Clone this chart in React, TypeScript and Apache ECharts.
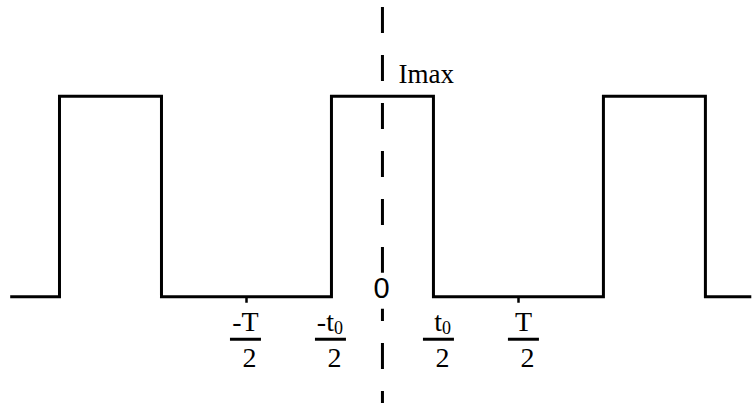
import React, { useEffect, useRef } from "react";
import * as echarts from "echarts";

// Square wave (units: T = 8, t0 = 3, Imax = 1)
const waveX = [-10.95, -9.5, -9.5, -6.5, -6.5, -1.5, -1.5, 1.5, 1.5, 6.5, 6.5, 9.5, 9.5, 10.85];
const waveY = [0, 0, 1, 1, 0, 0, 1, 1, 0, 0, 1, 1, 0, 0];

// Axis annotations
const tickValues = [-4, -1.5, 1.5, 4];
const tickNumerators = ["-T", "-t", "t", "T"];
const tickSubscripts = ["", "0", "0", ""];
const tickDenominators = ["2", "2", "2", "2"];
const periodTicks = [-4, 4];
const levelLabel = "Imax";
const levelValue = 1;
const originLabel = "0";
// vertical dashed line through t = 0: [t, top value, bottom value]
const zeroLine = [0, 1.445, -0.5995];

const SERIF = '"Liberation Serif", "Times New Roman", serif';
const SANS = '"Liberation Sans", Arial, sans-serif';

function txt(text: string, x: number, y: number, size: number, family: string, align: string, valign: string) {
  return {
    type: "text",
    style: {
      text,
      x,
      y,
      fill: "#000",
      fontSize: size,
      fontFamily: family,
      font: `${size}px ${family}`,
      textAlign: align,
      align,
      textVerticalAlign: valign,
      verticalAlign: valign,
    },
  };
}

export default function App() {
  const ref = useRef<HTMLDivElement>(null);
  useEffect(() => {
    if (!ref.current) return;
    const chart = echarts.init(ref.current, undefined, { renderer: "svg" });
    const fs = 28;
    chart.setOption({
      animation: false,
      backgroundColor: "#fff",
      grid: { left: 0, right: 0, top: 0, bottom: 0, containLabel: false },
      xAxis: { type: "value", min: -11.25, max: 10.9, show: false },
      yAxis: { type: "value", min: -0.53, max: 1.48, show: false },
      series: [
        {
          type: "line",
          data: waveX.map((x, i) => [x, waveY[i]]),
          symbol: "none",
          silent: true,
          lineStyle: { color: "#000", width: 3, join: "miter", cap: "butt" },
          markLine: {
            silent: true,
            symbol: ["none", "none"],
            label: { show: false },
            lineStyle: { color: "#000", width: 2.5, type: "solid" },
            data: periodTicks.map((t) => [{ coord: [t, 0] }, { coord: [t, -0.03] }]),
          },
          markPoint: {
            silent: true,
            symbol: "circle",
            symbolSize: 0,
            data: [
              {
                coord: [0, levelValue],
                label: {
                  show: true,
                  formatter: levelLabel,
                  position: [16, -22],
                  align: "left",
                  verticalAlign: "middle",
                  color: "#000",
                  fontSize: 27,
                  fontFamily: SERIF,
                },
              },
            ],
          },
        },
        {
          type: "custom",
          silent: true,
          clip: false,
          data: [zeroLine],
          encode: { x: 0, y: [1, 2] },
          renderItem: (params: any, api: any) => {
            const x = api.value(0);
            const p1 = api.coord([x, api.value(1)]);
            const p2 = api.coord([x, api.value(2)]);
            return {
              type: "line",
              shape: { x1: p1[0], y1: p1[1], x2: p2[0], y2: p2[1] },
              style: { stroke: "#000", lineWidth: 3, lineDash: [26, 22], lineDashOffset: 0 },
            };
          },
        },
        {
          type: "custom",
          silent: true,
          data: tickValues.map((v, i) => [v, 0, i]),
          encode: { x: 0, y: 1 },
          renderItem: (params: any, api: any) => {
            const v = api.value(0);
            const i = api.value(2);
            const p = api.coord([v, 0]);
            const ax = p[0];
            const ay = p[1];
            const cx = ax + 2 + Math.sign(v) * 3;
            const children: any[] = [];
            const sub = tickSubscripts[i];
            if (sub) {
              children.push(txt(tickNumerators[i], cx + 3.5, ay + 24.5, fs, SERIF, "right", "middle"));
              children.push(txt(sub, cx + 3.5, ay + 31.5, 18, SERIF, "left", "middle"));
            } else {
              children.push(txt(tickNumerators[i], cx, ay + 24.5, fs, SERIF, "center", "middle"));
            }
            children.push({
              type: "rect",
              shape: { x: cx - 15.5, y: ay + 41, width: 31, height: 3 },
              style: { fill: "#000" },
            });
            children.push(txt(tickDenominators[i], cx + 4, ay + 60.5, fs, SERIF, "center", "middle"));
            return { type: "group", children };
          },
        },
        {
          type: "custom",
          silent: true,
          data: [[0, 0]],
          encode: { x: 0, y: 1 },
          renderItem: (params: any, api: any) => {
            const p = api.coord([api.value(0), api.value(1)]);
            return {
              type: "group",
              children: [
                {
                  type: "rect",
                  shape: { x: p[0] - 9, y: p[1] - 24, width: 18, height: 36 },
                  style: { fill: "#fff" },
                },
                txt(originLabel, p[0] - 1, p[1] - 9, 29, SANS, "center", "middle"),
              ],
            };
          },
        },
      ],
    });
    return () => chart.dispose();
  }, []);
  return (
    <div
      ref={ref}
      style={{ position: "fixed", left: 0, top: 0, width: 753, height: 403, background: "#fff" }}
    />
  );
}
